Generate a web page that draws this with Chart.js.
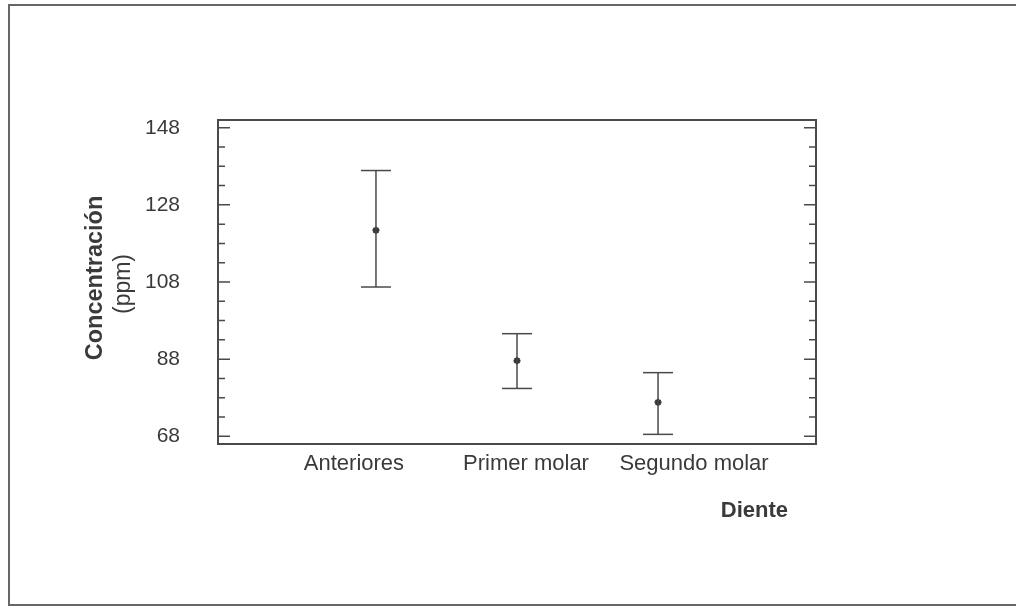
<!DOCTYPE html>
<html lang="es">
<head>
  <meta charset="UTF-8">
  <title>Concentración por diente</title>
  <script src="https://cdn.jsdelivr.net/npm/chart.js"></script>
  <style>
    body { margin: 0; background: #fff; }
    #marco {
      position: absolute; left: 8px; top: 4px; width: 1100px; height: 598px;
      border-left: 2px solid #666; border-top: 2px solid #666; border-bottom: 2px solid #666;
    }
    #wrap { position: absolute; left: 0; top: 0; width: 1016px; height: 606px; }
  </style>
</head>
<body>
  <div id="marco"></div>
  <div id="wrap"><canvas id="grafico" width="1016" height="606"></canvas></div>
  <script>
    // datos
    const dientes = ['Anteriores', 'Primer molar', 'Segundo molar'];
    const medias = [121.4, 87.6, 76.8];
    const limInf = [106.7, 80.4, 68.5];
    const limSup = [136.9, 94.6, 84.5];
    const ticksY = [68, 88, 108, 128, 148];

    const gris = '#4a4a4a';
    const fuente = '"Liberation Sans", Arial, sans-serif';
    // desplazamiento de cada etiqueta respecto a su barra (como en el original)
    const despEtiqueta = [-22, 9, 36];

    const bigotes = dientes.map((d, i) => ({
      data: [{ x: i, y: limInf[i] }, { x: i, y: limSup[i] }],
      showLine: true, borderColor: gris, borderWidth: 1.5, pointRadius: 0
    }));

    const extremos = {
      data: dientes.flatMap((d, i) => [{ x: i, y: limInf[i] }, { x: i, y: limSup[i] }]),
      pointStyle: 'line', pointRadius: 15, borderColor: gris, borderWidth: 1.5
    };

    const puntos = {
      data: dientes.map((d, i) => ({ x: i, y: medias[i] })),
      pointStyle: 'star', pointRadius: 3.5, borderColor: '#333', backgroundColor: '#333', borderWidth: 2
    };

    const marcoYTextos = {
      id: 'marcoYTextos',
      afterDraw(chart) {
        const ctx = chart.ctx, a = chart.chartArea;
        const sy = chart.scales.y, sx = chart.scales.x;
        ctx.save();
        ctx.strokeStyle = gris;
        ctx.lineWidth = 2;
        ctx.strokeRect(a.left, a.top, a.right - a.left, a.bottom - a.top);

        // marcas hacia dentro en ambos lados
        ctx.lineWidth = 1.5;
        for (let v = ticksY[0]; v <= ticksY[ticksY.length - 1]; v += 5) {
          const y = sy.getPixelForValue(v);
          const len = ticksY.includes(v) ? 12 : 7;
          ctx.beginPath();
          ctx.moveTo(a.left, y); ctx.lineTo(a.left + len, y);
          ctx.moveTo(a.right, y); ctx.lineTo(a.right - len, y);
          ctx.stroke();
        }

        ctx.fillStyle = '#3a3a3a';
        ctx.textBaseline = 'middle';
        ctx.textAlign = 'center';
        ctx.font = '22px ' + fuente;
        dientes.forEach((d, i) => {
          ctx.fillText(d, sx.getPixelForValue(i) + despEtiqueta[i], a.bottom + 20);
        });

        ctx.textAlign = 'right';
        ctx.font = 'bold 22px ' + fuente;
        ctx.fillText('Diente', a.right - 28, a.bottom + 67);

        ctx.translate(96, 278);
        ctx.rotate(-Math.PI / 2);
        ctx.textAlign = 'center';
        ctx.font = 'bold 23.5px ' + fuente;
        ctx.fillText('Concentración', 0, 0);
        ctx.font = '23px ' + fuente;
        ctx.fillText('(ppm)', -6, 28);
        ctx.restore();
      }
    };

    new Chart(document.getElementById('grafico'), {
      type: 'scatter',
      data: { datasets: [...bigotes, extremos, puntos] },
      options: {
        responsive: false,
        animation: false,
        layout: { padding: { left: 0, top: 120, right: 200, bottom: 162 } },
        plugins: { legend: { display: false }, tooltip: { enabled: false } },
        scales: {
          x: { type: 'linear', min: -1.12, max: 3.12, display: false },
          y: {
            min: 66, max: 150,
            grid: { display: false, drawTicks: false },
            border: { display: false },
            afterBuildTicks: s => { s.ticks = ticksY.map(v => ({ value: v })); },
            afterFit: s => { s.width = 218; },
            ticks: { color: '#3a3a3a', padding: 38, font: { size: 21, family: fuente } }
          }
        }
      },
      plugins: [marcoYTextos]
    });
  </script>
</body>
</html>
